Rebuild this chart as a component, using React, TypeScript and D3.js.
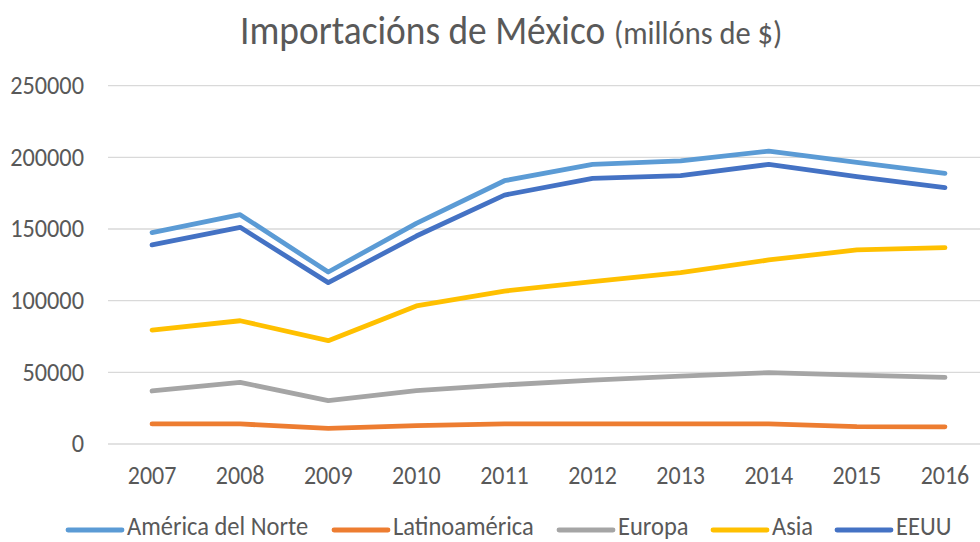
import React from "react";
import * as d3 from "d3";

const years = ["2007", "2008", "2009", "2010", "2011", "2012", "2013", "2014", "2015", "2016"];
const americaNorte = [147500, 160000, 120000, 154000, 183700, 195100, 197500, 204400, 196500, 188800];
const latinoamerica = [14000, 14000, 10900, 12800, 14000, 14000, 14000, 14000, 12100, 12000];
const europa = [37000, 43000, 30200, 37200, 41200, 44500, 47400, 49800, 48100, 46500];
const asia = [79500, 86000, 72100, 96300, 106700, 113300, 119500, 128400, 135400, 137000];
const eeuu = [138900, 151200, 112600, 145100, 173700, 185400, 187200, 195100, 186500, 178900];
const yTicks = [0, 50000, 100000, 150000, 200000, 250000];

const seriesNames = ["América del Norte", "Latinoamérica", "Europa", "Asia", "EEUU"];
const seriesValues = [americaNorte, latinoamerica, europa, asia, eeuu];
const seriesColors = ["#5B9BD5", "#ED7D31", "#A5A5A5", "#FFC000", "#4472C4"];
const drawOrder = [1, 2, 3, 0, 4];

const W = 980;
const H = 542;
const font = "Calibri, Carlito, 'Liberation Sans', sans-serif";
const SY = 1.1;

function T(props: {
  x: number;
  y: number;
  size: number;
  anchor?: string;
  weight?: number;
  sy?: number;
  children: React.ReactNode;
}) {
  return (
    <text
      transform={`translate(${props.x},${props.y}) scale(1,${props.sy ?? SY})`}
      textAnchor={props.anchor || "start"}
      fill="#595959"
      fontSize={props.size}
      fontWeight={props.weight || 400}
      fontFamily={font}
    >
      {props.children}
    </text>
  );
}

export default function App() {
  const x = d3.scalePoint<string>().domain(years).range([108, 989]).padding(0.5);
  const y = d3.scaleLinear().domain([0, 250000]).range([444, 85.7]);
  const line = d3
    .line<number>()
    .x((_, i) => x(years[i]) as number)
    .y((d) => y(d));

  const legendSwatchX = [68, 334, 559, 713, 837];

  return (
    <svg width={W} height={H} style={{ position: "absolute", left: 0, top: 0, background: "#fff" }}>
      <rect x={0} y={0} width={W} height={H} fill="#fff" />
      <T x={240} y={43.5} size={37.4} weight={300}>Importacións de México</T>
      <T x={614} y={43.5} size={30.5}>(millóns de $)</T>
      {yTicks.map((t) => (
        <g key={t}>
          <line x1={108} x2={980} y1={y(t)} y2={y(t)} stroke="#D9D9D9" strokeWidth={1.3} />
          <T x={84} y={y(t) + 8.3} size={24.3} anchor="end">
            {t}
          </T>
        </g>
      ))}
      {years.map((yr) => (
        <T key={yr} x={x(yr) as number} y={484.3} size={24} anchor="middle">
          {yr}
        </T>
      ))}
      {drawOrder.map((i) => (
        <path
          key={seriesNames[i]}
          d={line(seriesValues[i]) || ""}
          fill="none"
          stroke={seriesColors[i]}
          strokeWidth={4.8}
          strokeLinecap="round"
          strokeLinejoin="round"
        />
      ))}
      {seriesNames.map((n, i) => (
        <g key={n}>
          <line
            x1={legendSwatchX[i]}
            x2={legendSwatchX[i] + 54}
            y1={530}
            y2={530}
            stroke={seriesColors[i]}
            strokeWidth={4.8}
            strokeLinecap="round"
          />
          <T x={legendSwatchX[i] + 59} y={535} size={24.5} sy={1.06}>
            {n}
          </T>
        </g>
      ))}
    </svg>
  );
}
